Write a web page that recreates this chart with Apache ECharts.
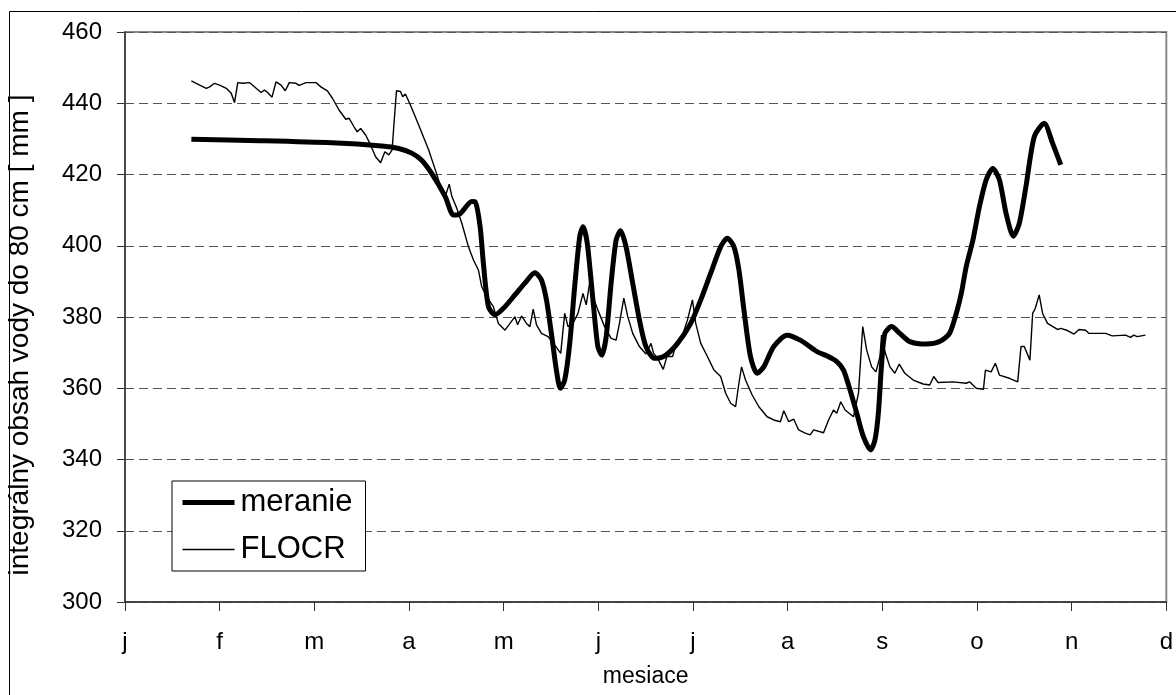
<!DOCTYPE html>
<html>
<head>
<meta charset="utf-8">
<script src="https://cdn.jsdelivr.net/npm/echarts@6/dist/echarts.min.js"></script>
<style>
html,body{margin:0;padding:0;background:#fff;}
#chart{width:1176px;height:695px;}
</style>
</head>
<body>
<div id="chart"></div>
<script>
// x positions are in months from the start of January (0 = j, 11 = d)
const monthLabels = ['j','f','m','a','m','j','j','a','s','o','n','d'];
const yTicks = [300,320,340,360,380,400,420,440,460];

const meranieX = [0.701,1.42,2.187,2.713,2.892,3.029,3.134,3.239,3.383,3.470,3.541,3.663,3.699,3.751,3.786,3.839,3.909,4.014,4.119,4.224,4.330,4.399,4.452,4.504,4.557,4.599,4.645,4.698,4.750,4.803,4.838,4.883,4.943,4.995,5.037,5.083,5.135,5.188,5.234,5.293,5.363,5.434,5.503,5.592,5.697,5.837,5.976,6.082,6.187,6.292,6.362,6.433,6.485,6.538,6.607,6.678,6.748,6.853,6.993,7.133,7.309,7.414,7.519,7.590,7.659,7.730,7.800,7.877,7.922,7.958,7.993,8.027,8.098,8.185,8.290,8.466,8.605,8.710,8.781,8.834,8.886,8.957,9.026,9.097,9.167,9.237,9.307,9.384,9.447,9.517,9.605,9.710,9.798,9.885];
const meranieY = [429.9,429.5,428.9,428.0,427.3,426.0,424.0,420.3,413.8,408.6,409.0,412.4,412.3,405.4,395.0,382.9,380.6,382.9,386.2,389.5,392.4,390.4,384.8,375.4,365.1,360.0,362.3,372.6,388.5,402.5,405.3,400.7,384.8,371.7,369.3,374.5,389.5,401.6,404.2,399.7,389.5,379.2,371.7,368.4,369.0,372.6,378.2,384.8,392.3,399.7,402.1,399.7,393.2,382.0,368.9,364.2,366.0,371.7,374.9,373.5,370.3,369.1,367.5,365.1,359.5,353.0,346.4,342.7,345.5,353.0,367.0,375.4,377.3,375.4,373.1,372.4,373.1,375.4,381.0,386.6,394.1,401.6,411.0,418.5,421.7,418.5,409.1,402.7,406.3,416.6,430.6,434.4,428.8,422.7];

const flocrX = [0.701,0.789,0.859,0.894,0.946,0.999,1.070,1.122,1.157,1.191,1.244,1.315,1.385,1.438,1.472,1.507,1.553,1.595,1.648,1.693,1.735,1.806,1.840,1.911,2.016,2.069,2.138,2.191,2.261,2.332,2.366,2.419,2.453,2.489,2.542,2.594,2.647,2.700,2.745,2.787,2.822,2.839,2.868,2.910,2.934,2.962,3.015,3.102,3.208,3.278,3.347,3.383,3.425,3.453,3.505,3.558,3.628,3.681,3.733,3.768,3.821,3.891,3.944,4.014,4.067,4.119,4.147,4.189,4.241,4.277,4.312,4.347,4.399,4.469,4.540,4.603,4.627,4.645,4.680,4.732,4.785,4.838,4.872,4.908,4.943,4.995,5.066,5.135,5.188,5.223,5.269,5.311,5.363,5.434,5.503,5.556,5.584,5.626,5.686,5.724,5.784,5.819,5.871,5.942,5.994,6.029,6.082,6.152,6.222,6.292,6.345,6.398,6.450,6.485,6.513,6.555,6.625,6.696,6.783,6.853,6.923,6.959,7.011,7.064,7.116,7.186,7.238,7.274,7.379,7.432,7.484,7.519,7.561,7.607,7.695,7.748,7.793,7.835,7.887,7.933,7.975,7.992,8.027,8.080,8.132,8.179,8.238,8.326,8.431,8.501,8.543,8.589,8.747,8.886,8.921,8.992,9.068,9.089,9.149,9.194,9.237,9.342,9.430,9.465,9.499,9.559,9.588,9.615,9.657,9.693,9.745,9.850,9.885,9.956,10.025,10.078,10.148,10.183,10.359,10.429,10.569,10.622,10.656,10.692,10.779];
const flocrY = [446.3,445.1,444.2,444.6,445.6,445.1,444.2,442.8,440.2,445.8,445.6,445.8,444.2,443.0,443.7,443.0,441.7,446.0,445.1,443.5,445.8,445.6,445.0,445.8,445.8,444.6,443.5,441.4,438.1,435.5,435.8,433.4,432.0,432.9,431.1,428.3,425.0,423.3,426.4,425.5,426.9,433.4,443.5,443.3,441.8,442.6,439.5,433.9,426.9,421.3,415.6,413.8,417.3,413.8,410.5,406.3,399.7,396.0,393.2,388.5,385.7,382.9,378.2,376.3,378.2,380.1,377.8,380.3,378.2,377.3,382.2,377.8,375.4,374.5,372.1,369.8,376.3,381.0,377.3,378.2,381.0,386.6,383.4,389.5,385.7,382.0,377.3,374.0,373.5,378.2,385.3,380.1,375.4,371.7,369.6,372.6,369.8,368.4,365.3,368.9,368.9,372.1,373.5,379.2,384.8,378.2,372.6,368.9,365.1,363.3,358.6,355.8,354.8,361.4,366.0,362.3,358.1,354.8,352.0,351.1,350.6,353.7,350.6,351.3,348.3,347.4,346.9,348.3,347.5,351.1,353.9,353.0,356.2,353.9,352.0,358.6,377.3,370.7,366.0,364.6,368.9,374.9,370.3,366.0,364.2,366.8,364.2,362.3,361.2,360.9,363.3,361.6,361.8,361.4,361.8,360.0,359.7,365.1,364.6,367.0,363.7,362.8,361.8,371.7,371.7,367.9,381.0,382.4,386.2,381.0,378.2,376.5,376.8,376.2,375.2,376.5,376.3,375.4,375.4,374.7,374.9,374.3,374.9,374.5,374.9];

const pair = (xs, ys) => xs.map((x, i) => [x, ys[i]]);
const FONT = "'Liberation Sans', Arial, sans-serif";

const chart = echarts.init(document.getElementById('chart'), null, {renderer: 'canvas'});
chart.setOption({
  backgroundColor: '#fff',
  animation: false,
  color: ['#000', '#000'],
  textStyle: {fontFamily: FONT, color: '#000'},
  graphic: [
    {type: 'rect', shape: {x: 9.5, y: 11.5, width: 1200, height: 700}, style: {fill: 'none', stroke: '#000', lineWidth: 1}, z: -10},
    {type: 'text', x: 20, y: 335, rotation: Math.PI / 2,
     style: {text: 'integrálny obsah vody do 80 cm [ mm ]', font: '28px ' + FONT, fill: '#000', align: 'center', verticalAlign: 'middle'}}
  ],
  grid: {left: 125, top: 32, right: 5, bottom: 93, show: true, borderColor: '#8a8a8a', borderWidth: 2, backgroundColor: '#fff'},
  legend: {
    orient: 'vertical', left: 172, top: 481,
    backgroundColor: '#fff', borderColor: '#000', borderWidth: 1,
    padding: [6, 13, 6, 8], itemGap: 16, itemWidth: 52, itemHeight: 14,
    itemStyle: {opacity: 0},
    textStyle: {fontSize: 31, fontFamily: FONT, color: '#000', padding: [0,0,0,1]},
    data: [
      {name: 'meranie', itemStyle: {opacity: 0}, lineStyle: {color: '#000', width: 5}},
      {name: 'FLOCR', itemStyle: {opacity: 0}, lineStyle: {color: '#000', width: 1.4}}
    ]
  },
  xAxis: {
    type: 'value', min: 0, max: 11, interval: 1,
    name: 'mesiace', nameLocation: 'middle', nameGap: 63,
    nameTextStyle: {fontSize: 23, fontFamily: FONT, color: '#000'},
    axisLine: {show: true, lineStyle: {color: '#333', width: 1.5}},
    axisTick: {show: true, inside: false, length: 9, lineStyle: {color: '#333', width: 1}},
    axisLabel: {fontSize: 24, fontFamily: FONT, color: '#000', margin: 28,
      formatter: v => monthLabels[Math.round(v)] ?? ''},
    splitLine: {show: false}
  },
  yAxis: {
    type: 'value', min: yTicks[0], max: yTicks[yTicks.length - 1], interval: 20,
    axisLine: {show: true, lineStyle: {color: '#333', width: 1.5}},
    axisTick: {show: true, inside: false, length: 8, lineStyle: {color: '#333', width: 1}},
    axisLabel: {fontSize: 24, fontFamily: FONT, color: '#000', margin: 23},
    splitLine: {show: true, lineStyle: {color: '#555', width: 1, type: [9, 5]}}
  },
  series: [
    {name: 'meranie', type: 'line', data: pair(meranieX, meranieY), symbol: 'none', showSymbol: false,
     smooth: 0.25, itemStyle: {color: '#000'}, lineStyle: {color: '#000', width: 5}, z: 3},
    {name: 'FLOCR', type: 'line', data: pair(flocrX, flocrY), symbol: 'none', showSymbol: false,
     smooth: false, itemStyle: {color: '#000'}, lineStyle: {color: '#000', width: 1.4}, z: 2}
  ]
});
</script>
</body>
</html>
